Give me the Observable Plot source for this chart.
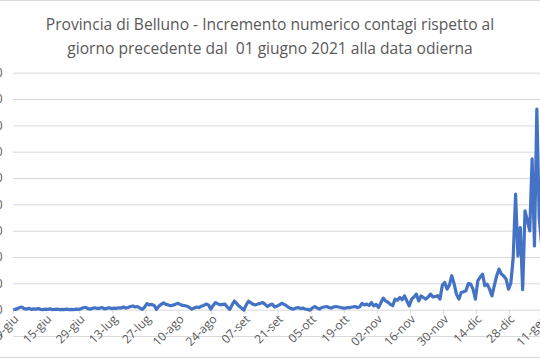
<!DOCTYPE html>
<html><head><meta charset="utf-8">
<script src="https://cdn.jsdelivr.net/npm/d3@7"></script>
<script src="https://cdn.jsdelivr.net/npm/@observablehq/plot@0.6"></script>
<style>
html,body{margin:0;padding:0;background:#fff;overflow:hidden;width:540px;height:360px}
#frame{position:absolute;left:-2px;top:0;width:544px;height:356px;border:1px solid #d9d9d9;}
#title{position:absolute;left:0;top:0;width:540px;text-align:center;font-family:"Open Sans";font-size:15.6px;line-height:24px;color:#595959;padding-top:12px;white-space:pre}
#chart{position:absolute;left:0;top:60px}
</style></head><body>
<div id="frame"></div>
<div id="title">Provincia di Belluno - Incremento numerico contagi rispetto al
giorno precedente dal  01 giugno 2021 alla data odierna</div>
<div id="chart"></div>
<script>
// Daily increments (day 0 = 01 June 2021)
const values = [
  3,5,10,12,6,4,7,3,5,4, 6,3,2,4,3,5,2,3,4,2, 3,2,4,2,3,2,4,3,5,9, 11,6,4,7,9,6,8,10,5,7, 9,6,8,7,9,8,
  12,8,10,14,16,12,14,8,3,12, 25,20,22,18,3,15,22,28,22,20, 17,19,22,26,22,18,17,15,10,4,
  8,12,10,15,18,23,20,4,18,29, 24,20,22,23,12,3,20,35,25,15, 8,0,20,34,28,22,20,24,26,29,
  22,14,20,23,12,15,20,26,22,17, 10,6,4,8,10,6,8,4,3,0, 8,14,8,4,10,12,14,10,8,12,
  14,12,10,8,8,10,10,12,14,10, 12,26,20,23,18,29,16,22,10,28, 46,35,30,22,17,
  42,38,48,40,54,35,16,42,50, 61,35,54,48,42,50,61,50,52,55, 42,95,105,80,95,131,100,60,42,67,
  70,74,101,99,80,42,111,125,137,93, 99,80,54,93,130,156,137,130,118,80,
  103,200,441,206,314,78,377,340,301,575, 244,764,350,250
];
const tickDays = [0,14,28,42,56,70,84,98,112,126,140,154,168,182,196,210,224];
const tickLabels = ["01-giu","15-giu","29-giu","13-lug","27-lug","10-ago","24-ago","07-set","21-set","05-ott","19-ott","02-nov","16-nov","30-nov","14-dic","28-dic","11-gen"];
const yTicks = [-100,0,100,200,300,400,500,600,700,800,900];

const chart = Plot.plot({
  width: 540, height: 300,
  marginLeft: 13, marginRight: 0, marginTop: 12.7, marginBottom: 24,
  style: {fontFamily: "Open Sans", fontSize: "12px", color: "#595959", overflow: "hidden", background: "transparent"},
  x: {domain: [0, 223.05], axis: null},
  y: {domain: [-100, 900], axis: null},
  marks: [
    Plot.gridY(yTicks, {stroke: "#d9d9d9", strokeOpacity: 1}),
    Plot.axisY(yTicks, {tickSize: 0, tickPadding: 11, fill: "#595959"}),
    Plot.ruleX(tickDays, {x: d => d, y1: 0, y2: 0, insetBottom: -4, stroke: "#d9d9d9"}),
    Plot.text(tickDays, {x: d => d, y: 0, text: (d, i) => tickLabels[i], rotate: -45, textAnchor: "end", dx: 3, dy: 7, fill: "#595959"}),
    Plot.line(values, {x: (d, i) => i + 0.5, y: d => d, stroke: "#4472C4", strokeWidth: 3.2, strokeLinejoin: "round"})
  ]
});
document.getElementById("chart").appendChild(chart);
</script></body></html>
